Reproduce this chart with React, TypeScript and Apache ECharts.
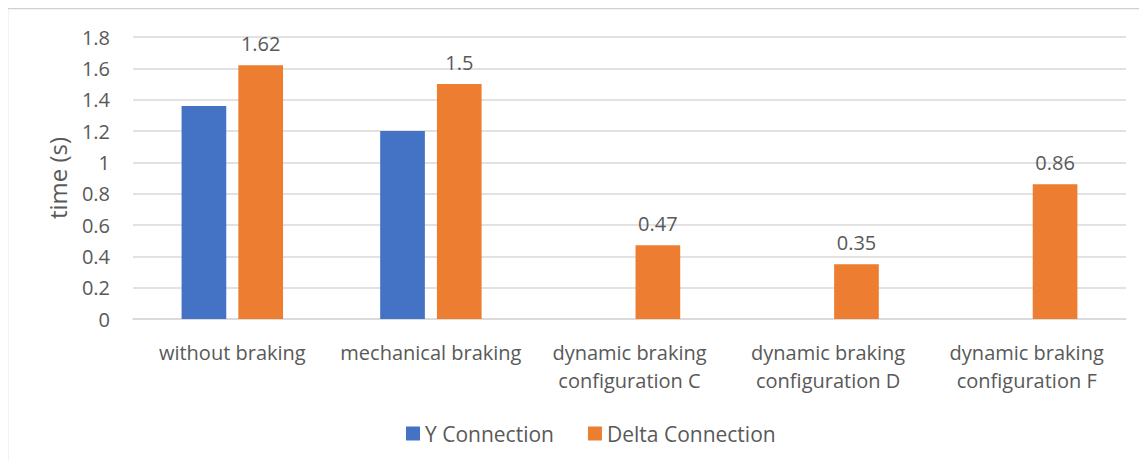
import React, { useEffect, useRef } from "react";
import * as echarts from "echarts";

const categories = [
  "without braking",
  "mechanical braking",
  "dynamic braking\nconfiguration C",
  "dynamic braking\nconfiguration D",
  "dynamic braking\nconfiguration F",
];
const yConnection: (number | null)[] = [1.36, 1.2, null, null, null];
const deltaConnection: number[] = [1.62, 1.5, 0.47, 0.35, 0.86];
const seriesNames = ["Y Connection", "Delta Connection"];
const yAxisName = "time (s)";

const FONT = "'Open Sans', Lato, sans-serif";
const TXT = "#595959";
const FS = 20;

export default function App() {
  const ref = useRef<HTMLDivElement>(null);
  useEffect(() => {
    if (!ref.current) return;
    const chart = echarts.init(ref.current, undefined, { renderer: "svg" });
    chart.setOption({
      animation: false,
      backgroundColor: "#ffffff",
      textStyle: { fontFamily: FONT },
      graphic: [
        {
          type: "rect",
          shape: { x: 7.5, y: 8.5, width: 1300, height: 700 },
          style: { fill: "none", stroke: "#d0d0d0", lineWidth: 1.5 },
          silent: true,
        },
      ],
      grid: { left: 133, right: 21, top: 37, bottom: 150, containLabel: false },
      legend: {
        bottom: 20,
        left: 401,
        itemWidth: 14,
        itemHeight: 14,
        itemGap: 34,
        icon: "rect",
        textStyle: { color: TXT, fontSize: 21, fontFamily: FONT },
        data: seriesNames,
      },
      xAxis: {
        type: "category",
        data: categories,
        axisLine: { show: true, lineStyle: { color: "#d9d9d9", width: 1.5 } },
        axisTick: { show: false },
        axisLabel: {
          color: TXT,
          fontSize: FS,
          fontFamily: FONT,
          margin: 19,
          lineHeight: 28,
          interval: 0,
        },
      },
      yAxis: {
        type: "value",
        min: 0,
        max: 1.8,
        interval: 0.2,
        name: yAxisName,
        nameLocation: "middle",
        nameGap: 64,
        nameRotate: 90,
        nameTextStyle: { color: TXT, fontSize: 24, fontFamily: FONT },
        axisLine: { show: false },
        axisTick: { show: false },
        splitLine: { lineStyle: { color: "#d9d9d9", width: 1.5 } },
        axisLabel: {
          color: TXT,
          fontSize: FS,
          fontFamily: FONT,
          margin: 23,
          formatter: (v: number) => String(Math.round(v * 10) / 10),
        },
      },
      series: [
        {
          name: seriesNames[0],
          type: "bar",
          data: yConnection,
          barWidth: "22.5%",
          barGap: "27%",
          itemStyle: { color: "#4472C4" },
        },
        {
          name: seriesNames[1],
          type: "bar",
          data: deltaConnection,
          barWidth: "22.5%",
          itemStyle: { color: "#ED7D31" },
          label: {
            show: true,
            position: "top",
            distance: 12,
            color: TXT,
            fontSize: FS,
            fontFamily: FONT,
          },
        },
      ],
    });
    return () => chart.dispose();
  }, []);
  return <div ref={ref} style={{ width: 1147, height: 469, margin: -8 }} />;
}
